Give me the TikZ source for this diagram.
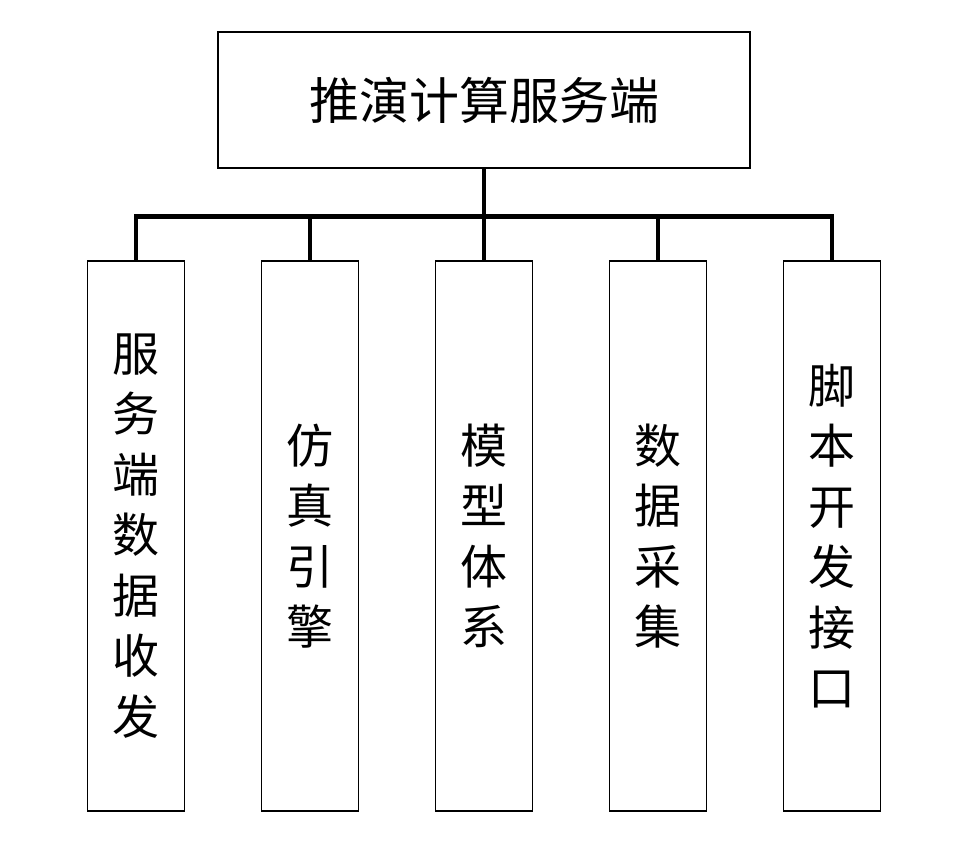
\documentclass[tikz,border=0pt]{standalone}
\usepackage{fontspec}
\setmainfont{Noto Sans CJK SC}
\usetikzlibrary{positioning}
\tikzset{
    topbox/.style={
        draw=black,
        line width=1.5pt,
        minimum width=532pt,
        minimum height=136pt,
        font=\fontsize{50}{60}\selectfont
    },
    subbox/.style={
        draw=black,
        line width=1.5pt,
        minimum width=97pt,
        minimum height=550pt,
        inner sep=0pt,
        align=center,
        font=\fontsize{47}{60.5}\selectfont
    },
    link/.style={
        line width=4.5pt
    }
}

\begin{document}
\begin{tikzpicture}[x=1pt, y=1pt, node distance = 174pt, on grid]
            % Frame :
            \useasboundingbox (0,0) rectangle (972,848);

            % Server
            \node (server) [topbox] at (484,748) {推演计算服务端};

            % Modules
            \node (recv) [subbox] at (136,312)
                {服\\务\\端\\数\\据\\收\\发};
            \node (engine) [
                subbox,
                right = of recv
            ] {仿\\真\\引\\擎};
            \node (model) [
                subbox,
                right = of engine
            ] {模\\型\\体\\系};
            \node (collect) [
                subbox,
                right = of model
            ] {数\\据\\采\\集};
            \node (script) [
                subbox,
                right = of collect
            ] {脚\\本\\开\\发\\接\\口};

            % Bus
            \coordinate (bus) at (0,631.5);
            \draw [link]
                (recv.north) -- (recv.north |- bus)
                -- (script.north |- bus) -- (script.north);
            \draw [link] (server.south) -- (model.north);
            \draw [link] (engine.north) -- (engine.north |- bus);
            \draw [link] (collect.north) -- (collect.north |- bus);
\end{tikzpicture}
\end{document}
